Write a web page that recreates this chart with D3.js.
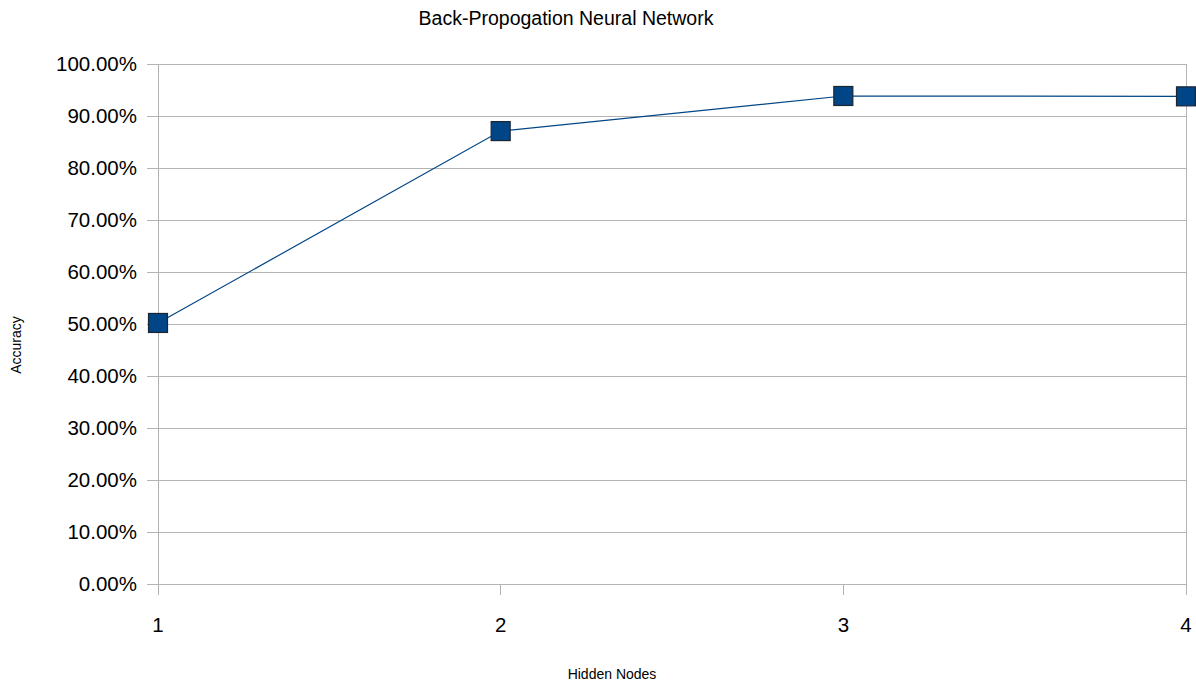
<!DOCTYPE html>
<html>
<head>
<meta charset="utf-8">
<script src="https://cdn.jsdelivr.net/npm/d3@7"></script>
<style>
  html, body { margin: 0; padding: 0; background: #fff; }
  svg { display: block; font-family: "Liberation Sans", Arial, sans-serif; }
</style>
</head>
<body>
<svg id="chart" width="1196" height="682"></svg>
<script>
const categories = [1, 2, 3, 4];
const accuracy = [0.502, 0.871, 0.9385, 0.9378];
const yTicks = [0, 0.1, 0.2, 0.3, 0.4, 0.5, 0.6, 0.7, 0.8, 0.9, 1.0];
const title = "Back-Propogation Neural Network";
const xTitle = "Hidden Nodes";
const yTitle = "Accuracy";

(function () {
const svg = d3.select("#chart");
const pl = 158, pr = 1186, pt = 64, pb = 584;

const x = d3.scalePoint().domain(categories).range([pl, pr]);
const y = d3.scaleLinear().domain([0, 1]).range([pb, pt]);

// gridlines
svg.append("g").selectAll("line").data(yTicks).join("line")
  .attr("x1", pl - 11).attr("x2", pr)
  .attr("y1", d => y(d)).attr("y2", d => y(d))
  .attr("stroke", "#b3b3b3").attr("stroke-width", 1)
  .attr("shape-rendering", "crispEdges");

// right border
svg.append("line")
  .attr("x1", pr).attr("x2", pr).attr("y1", pt).attr("y2", pb + 11)
  .attr("stroke", "#b3b3b3").attr("shape-rendering", "crispEdges");

// y axis line
svg.append("line")
  .attr("x1", pl).attr("x2", pl).attr("y1", pt).attr("y2", pb + 11)
  .attr("stroke", "#b3b3b3").attr("shape-rendering", "crispEdges");

// x ticks
svg.append("g").selectAll("line").data(categories).join("line")
  .attr("x1", d => x(d)).attr("x2", d => x(d))
  .attr("y1", pb).attr("y2", pb + 11)
  .attr("stroke", "#b3b3b3").attr("shape-rendering", "crispEdges");

// y tick labels
const fmt = d3.format(".2%");
svg.append("g").selectAll("text").data(yTicks).join("text")
  .attr("x", pl - 21).attr("y", d => y(d))
  .attr("dy", "0.35em")
  .attr("text-anchor", "end")
  .attr("font-size", 20.5).attr("fill", "#000")
  .text(d => fmt(d));

// x tick labels
svg.append("g").selectAll("text").data(categories).join("text")
  .attr("x", d => x(d)).attr("y", 632)
  .attr("text-anchor", "middle")
  .attr("font-size", 20.5).attr("fill", "#000")
  .text(d => d);

// line
const line = d3.line().x((d, i) => x(categories[i])).y(d => y(d));
svg.append("path").datum(accuracy)
  .attr("d", line).attr("fill", "none")
  .attr("stroke", "#004586").attr("stroke-width", 1.2);

// markers
const ms = 19;
svg.append("g").selectAll("rect").data(accuracy).join("rect")
  .attr("x", (d, i) => x(categories[i]) - ms / 2)
  .attr("y", d => y(d) - ms / 2)
  .attr("width", ms).attr("height", ms)
  .attr("fill", "#004586").attr("stroke", "#1c2633").attr("stroke-width", 1.2);

// titles
svg.append("text").attr("x", 566).attr("y", 25)
  .attr("text-anchor", "middle").attr("font-size", 19.5).text(title);
svg.append("text").attr("x", 612).attr("y", 679)
  .attr("text-anchor", "middle").attr("font-size", 14).text(xTitle);
svg.append("text")
  .attr("transform", "translate(21,345) rotate(-90)")
  .attr("text-anchor", "middle").attr("font-size", 14).text(yTitle);
})();
</script>
</body>
</html>
